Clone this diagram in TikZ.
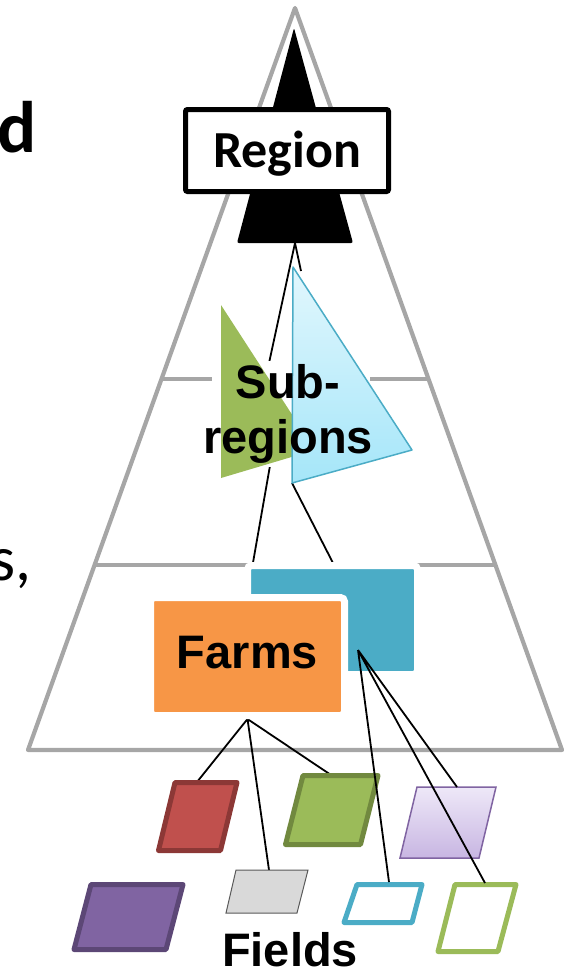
\documentclass[tikz,border=0pt]{standalone}
\usepackage{fontspec}
\setmainfont{Liberation Sans}
\newfontfamily\calibri{Carlito}
\pgfdeclarelayer{bg}
\pgfsetlayers{bg,main}
\definecolor{pyrgray}{HTML}{A6A6A6}
\definecolor{greenA}{HTML}{9BBB59}
\definecolor{greenD}{HTML}{71893F}
\definecolor{blueA}{HTML}{4BACC6}
\definecolor{cyanL}{HTML}{E2F7FD}
\definecolor{cyanD}{HTML}{A5E6F9}
\definecolor{orangeA}{HTML}{F79646}
\definecolor{redA}{HTML}{C0504D}
\definecolor{redD}{HTML}{8C3836}
\definecolor{lilacL}{HTML}{EEE8F8}
\definecolor{lilacD}{HTML}{C8B6E2}
\definecolor{purpleA}{HTML}{8064A2}
\definecolor{purpleD}{HTML}{5C4776}
\definecolor{grayA}{HTML}{D9D9D9}
\definecolor{grayD}{HTML}{595959}
\begin{document}
\begin{tikzpicture}[x=1pt,y=-1pt,
    conn/.style={line width=1.8pt},
    pyr/.style={pyrgray,line width=4.2pt,line join=round},
    farm/.style={draw=white,line width=7pt,rounded corners=4pt,inner sep=0pt},
    fat/.style={line width=5pt,line join=round},
    big/.style={font=\bfseries\fontsize{47}{55}\selectfont}]
\useasboundingbox (0,0) rectangle (563,969);
\begin{pgfonlayer}{bg}
\draw[pyr] (28,750) -- (295,8) -- (562,750) -- cycle;
\draw[pyr] (161.5,379) -- (428.5,379);
\draw[pyr] (94.5,565) -- (495.5,565);
\end{pgfonlayer}
\fill[rounded corners=2pt] (294,28) -- (353,243) -- (237,243) -- cycle;
\coordinate (regbot) at (295,243);
\node (region) at (287,150.5) [draw,line width=5pt,fill=white,rounded corners=2pt,minimum width=203pt,minimum height=82pt,
    font=\calibri\bfseries\fontsize{52}{60}\selectfont,text height=34pt,text depth=0pt] {Region};
\fill[greenA] (221,305) -- (315,450) -- (221,478) -- cycle;
\shadedraw[top color=cyanL,bottom color=cyanD,draw=blueA,line width=1.5pt,line join=round] (293,267) -- (412,450) -- (292,483) -- cycle;
\coordinate (subAin) at (261,400);
\coordinate (subAout) at (278,420);
\coordinate (subBin) at (301,271);
\coordinate (subBout) at (292,483);
\node (sub) at (288,413.5) [big,align=center] {Sub-\\regions};
\node (farmB) at (332.5,620) [farm,fill=blueA,minimum width=170pt,minimum height=109pt] {};
\node (farmA) at (247.5,656.5) [farm,fill=orangeA,minimum width=194pt,minimum height=118pt,big,text height=35pt,text depth=12pt] {Farms};
\coordinate (hubB) at (358,650);
\coordinate (fRed) at (197,782);
\coordinate (fGreen) at (331,775);
\coordinate (fLilac) at (457,787);
\coordinate (fGray) at (269,870);
\coordinate (fBlue) at (389,882);
\coordinate (fOlive) at (485,883);
\begin{pgfonlayer}{bg}
\draw[conn] (regbot) -- (subAin) (regbot) -- (subBin) (subAout) -- (farmA.north) (subBout) -- (farmB.north);
\draw[conn] (farmA.south) -- (fRed) (farmA.south) -- (fGray) (farmA.south) -- (fGreen);
\fill[white] (212,361) rectangle (370,467);
\end{pgfonlayer}
\filldraw[fat,fill=redA,draw=redD] (175,782.5) -- (237,782.5) -- (220.5,850.5) -- (158.5,850.5) -- cycle;
\filldraw[fat,fill=greenA,draw=greenD] (303,775.5) -- (378,775.5) -- (360.5,844.5) -- (285.5,844.5) -- cycle;
\shadedraw[top color=lilacL,bottom color=lilacD,draw=purpleA,line width=1.5pt] (417,787) -- (496,787) -- (479,858) -- (400,858) -- cycle;
\filldraw[fat,fill=purpleA,draw=purpleD] (91,884.5) -- (183,884.5) -- (166,949.5) -- (74,949.5) -- cycle;
\filldraw[fill=grayA,draw=grayD,line width=1pt] (236,870) -- (308,870) -- (297,913) -- (226,913) -- cycle;
\filldraw[fat,fill=white,draw=blueA] (357,884.5) -- (422,884.5) -- (412,922.5) -- (344,922.5) -- cycle;
\filldraw[fat,fill=white,draw=greenA] (455,884.5) -- (516,884.5) -- (498,951.5) -- (438,951.5) -- cycle;
\draw[conn] (hubB) -- (fBlue) (hubB) -- (fOlive) (hubB) -- (fLilac);
\node (fields) at (290,966) [big,anchor=base] {Fields};
\node (frag1) at (37,152) [anchor=base east,inner sep=0pt,font=\calibri\bfseries\fontsize{73}{80}\selectfont] {d};
\node (frag2) at (32,580) [anchor=base east,inner sep=0pt,font=\calibri\fontsize{64}{70}\selectfont] {s,};
\end{tikzpicture}
\end{document}
